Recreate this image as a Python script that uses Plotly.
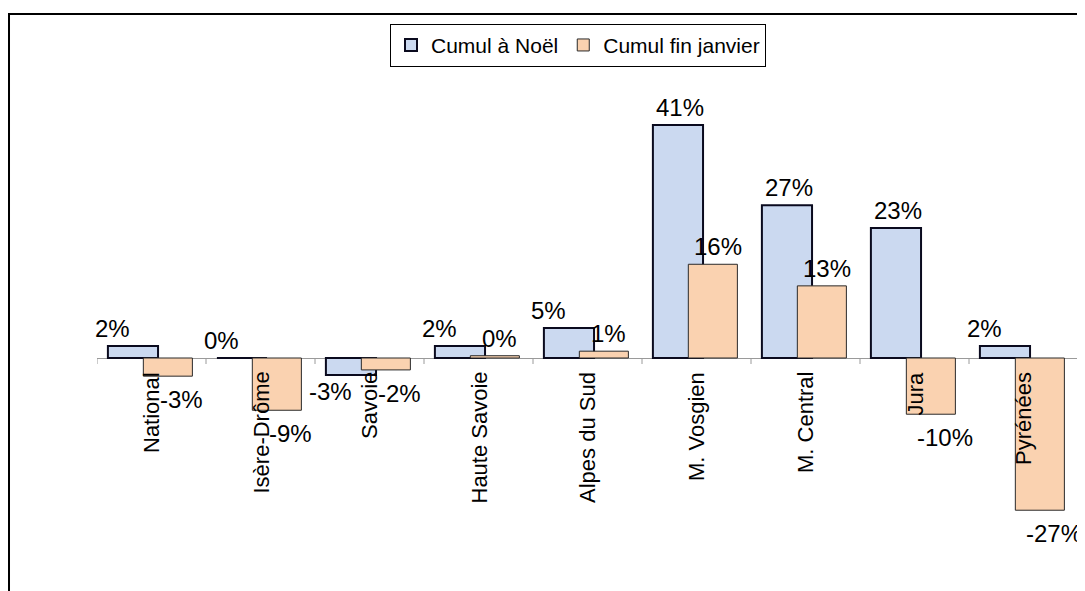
import plotly.graph_objects as go

categories = ["National", "Isère-Drôme", "Savoie", "Haute Savoie", "Alpes du Sud",
              "M. Vosgien", "M. Central", "Jura", "Pyrénées"]
noel = [2.1, 0.0, -3.0, 2.1, 5.3, 41.0, 26.9, 22.9, 2.1]
janvier = [-3.2, -9.2, -2.1, 0.4, 1.2, 16.5, 12.7, -9.9, -26.8]
series_names = ["Cumul à Noël", "Cumul fin janvier"]

FONT = "Liberation Sans, Arial, sans-serif"
BLUE = "#cbd9f0"
ORANGE = "#fad2b0"

x = list(range(len(categories)))

fig = go.Figure()
fig.add_trace(go.Bar(
    x=x, y=noel, name=series_names[0],
    offset=-0.40, width=0.46,
    marker=dict(color=BLUE, line=dict(color="#0a0a1e", width=2)),
    hoverinfo="skip",
))
fig.add_trace(go.Bar(
    x=x, y=janvier, name=series_names[1],
    offset=-0.075, width=0.45,
    marker=dict(color=ORANGE, line=dict(color="#2a2a2a", width=1)),
    hoverinfo="skip",
))

annotations = []
# category labels just under the zero axis
for i, c in enumerate(categories):
    annotations.append(dict(
        x=i, y=0, xref="x", yref="y", text=c, showarrow=False,
        textangle=-90, xanchor="center", yanchor="top", yshift=-12,
        font=dict(family=FONT, size=22, color="black"),
    ))

# data labels
for i, v in enumerate(noel):
    small = abs(v) < 10
    annotations.append(dict(
        x=i - 0.17, y=v, xref="x", yref="y", text=f"{round(v):d}%",
        showarrow=False, xanchor="center",
        yanchor="bottom" if v >= 0 else "top",
        yshift=2 if v >= 0 else -1,
        xshift=-20 if small else 2,
        font=dict(family=FONT, size=24, color="black"),
    ))
for i, v in enumerate(janvier):
    annotations.append(dict(
        x=i + 0.15, y=v, xref="x", yref="y", text=f"{round(v):d}%",
        showarrow=False, xanchor="center",
        yanchor="bottom" if v >= 0 else "top",
        yshift=2 if v >= 0 else -8,
        xshift=5 if v >= 0 else 14,
        font=dict(family=FONT, size=24, color="black"),
    ))

shapes = []
# category boundary tick marks on the zero axis
for k in range(len(categories) + 1):
    shapes.append(dict(
        type="line", xref="x", yref="y", x0=k - 0.5, x1=k - 0.5,
        ysizemode="pixel", yanchor=0, y0=0, y1=-6,
        line=dict(color="#9a9a9a", width=1),
    ))
# chart frame (left and top edges visible)
shapes.append(dict(
    type="rect", xref="paper", yref="paper",
    x0=-0.0897, x1=1.05, y0=-0.05, y1=1.0,
    line=dict(color="black", width=2), fillcolor="rgba(0,0,0,0)", layer="below",
))

fig.update_layout(
    width=1077, height=583,
    margin=dict(l=89, r=7, t=6, b=0),
    paper_bgcolor="white", plot_bgcolor="white",
    barmode="overlay",
    showlegend=True,
    legend=dict(
        orientation="h", x=0.2987, xanchor="left", y=0.983, yanchor="top",
        bordercolor="black", borderwidth=1, bgcolor="white",
        font=dict(family=FONT, size=21, color="black"),
        itemwidth=30, tracegroupgap=0,
    ),
    xaxis=dict(range=[-0.5, 8.5], showticklabels=False, showgrid=False,
               zeroline=False, showline=False, ticks="", fixedrange=True),
    yaxis=dict(range=[-41.02, 60.56], showticklabels=False, showgrid=False,
               zeroline=True, zerolinecolor="#9a9a9a", zerolinewidth=1,
               showline=False, ticks="", fixedrange=True),
    annotations=annotations,
    shapes=shapes,
    font=dict(family=FONT),
)

fig.write_html("out.html")
